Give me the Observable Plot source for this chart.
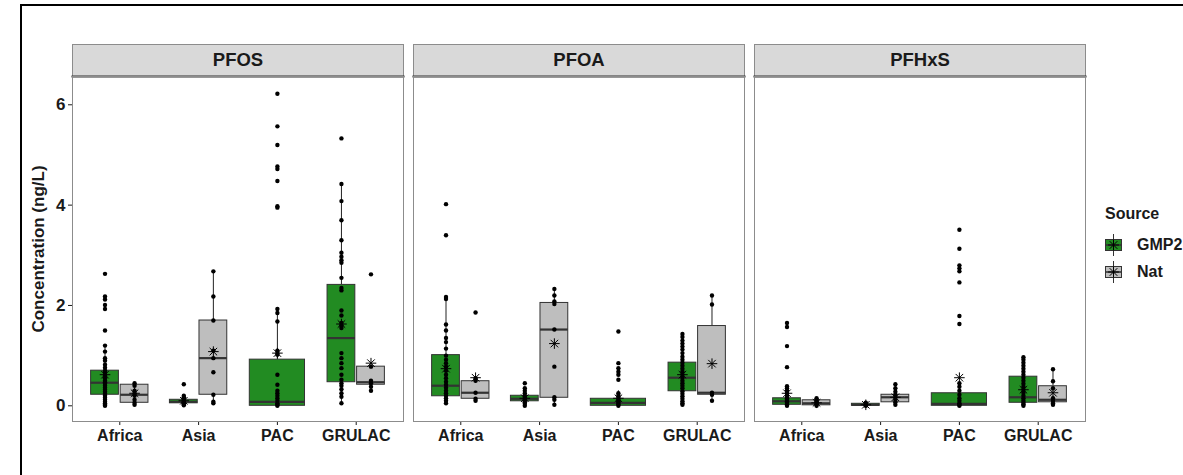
<!DOCTYPE html>
<html>
<head>
<meta charset="utf-8">
<script src="https://cdn.jsdelivr.net/npm/d3@7"></script>
<script src="https://cdn.jsdelivr.net/npm/@observablehq/plot@0.6"></script>
<style>
  html, body { margin: 0; padding: 0; background: #fff; }
  body { width: 1183px; height: 475px; overflow: hidden; position: relative;
         font-family: "Liberation Sans", Arial, sans-serif; }
  #frameline { position: absolute; left: 20px; top: 4px; width: 1300px; height: 600px;
               border-left: 2px solid #000; border-top: 2px solid #000; pointer-events: none; }
  #chart { position: absolute; left: 0; top: 0; }
  #chart g[aria-label="y-axis label"] text { font-size: 17px; }
  #chart g[aria-label="y-axis tick label"] text { font-size: 17px; }
  #legend { position: absolute; left: 1104px; top: 0; font-weight: bold; color: #1a1a1a; }
  #legend .title { position: absolute; top: 205px; left: 1px; font-size: 16px; white-space: nowrap; }
  #legend .row { position: absolute; left: 0; white-space: nowrap; height: 24px; }
  #legend .row svg { position: absolute; left: 0; top: 0; }
  #legend .row span { position: absolute; left: 33px; top: 3px; font-size: 16px; }
</style>
</head>
<body>
<div id="chart"></div>
<div id="legend"></div>
<div id="frameline"></div>
<script>
// Panels, regions and sources
const analytes = ["PFOS", "PFOA", "PFHxS"];
const regions = ["Africa", "Asia", "PAC", "GRULAC"];
const sources = ["GMP2", "Nat"];
const sourceColors = ["#228B22", "#BEBEBE"];
const yTicks = [0, 2, 4, 6];

// One entry per box (analyte × region × source)
const groupAnalyte = ["PFOS","PFOS","PFOS","PFOS","PFOS","PFOS","PFOS",
                      "PFOA","PFOA","PFOA","PFOA","PFOA","PFOA","PFOA",
                      "PFHxS","PFHxS","PFHxS","PFHxS","PFHxS","PFHxS","PFHxS"];
const groupRegion = ["Africa","Africa","Asia","Asia","PAC","GRULAC","GRULAC",
                     "Africa","Africa","Asia","Asia","PAC","GRULAC","GRULAC",
                     "Africa","Africa","Asia","Asia","PAC","GRULAC","GRULAC"];
const groupSource = ["GMP2","Nat","GMP2","Nat","GMP2","GMP2","Nat",
                     "GMP2","Nat","GMP2","Nat","GMP2","GMP2","Nat",
                     "GMP2","Nat","GMP2","Nat","GMP2","GMP2","Nat"];

// Box summaries (ng/L)
const q1          = [0.22, 0.06, 0.05, 0.22, 0.00, 0.47, 0.42,  0.19, 0.14, 0.09, 0.16, 0.00, 0.29, 0.22,  0.02, 0.01, 0.00, 0.07, 0.00, 0.06, 0.07];
const median      = [0.46, 0.22, 0.08, 0.95, 0.08, 1.35, 0.47,  0.40, 0.26, 0.14, 1.52, 0.06, 0.56, 0.26,  0.09, 0.05, 0.02, 0.17, 0.04, 0.17, 0.12];
const q3          = [0.70, 0.42, 0.12, 1.70, 0.92, 2.41, 0.78,  1.01, 0.49, 0.20, 2.05, 0.14, 0.86, 1.59,  0.15, 0.11, 0.04, 0.22, 0.25, 0.58, 0.39];
const whiskerLow  = [0.00, 0.02, 0.01, 0.05, 0.00, 0.05, 0.30,  0.04, 0.10, 0.00, 0.02, 0.00, 0.02, 0.10,  0.00, 0.00, 0.00, 0.02, 0.00, 0.00, 0.02];
const whiskerHigh = [1.20, 0.45, 0.20, 2.68, 1.93, 4.42, 0.78,  2.15, 0.55, 0.35, 2.33, 0.30, 1.43, 2.20,  0.30, 0.15, 0.06, 0.43, 0.45, 0.97, 0.73];
const mean        = [0.62, 0.25, 0.10, 1.08, 1.05, 1.63, 0.85,  0.74, 0.56, 0.15, 1.24, 0.15, 0.62, 0.84,  0.25, 0.06, 0.02, 0.17, 0.56, 0.32, 0.26];

// Individual measurements for each box, in the same order
const samples = [
  [2.63, 2.18, 2.12, 2.01, 1.93, 1.5, 1.2, 1.08, 0.95, 0.9, 0.82, 0.76, 0.7, 0.66, 0.6, 0.55, 0.5, 0.47, 0.44, 0.4, 0.36, 0.32, 0.28, 0.24, 0.2, 0.16, 0.12, 0.08, 0.05, 0.02, 0.0],
  [0.45, 0.4, 0.3, 0.25, 0.2, 0.12, 0.06, 0.02],
  [0.43, 0.2, 0.17, 0.14, 0.12, 0.1, 0.08, 0.07, 0.05, 0.03, 0.01],
  [2.68, 2.18, 1.7, 1.1, 0.95, 0.67, 0.22, 0.08, 0.05],
  [6.22, 5.57, 5.2, 4.77, 4.72, 4.48, 3.98, 3.95, 1.93, 1.85, 1.68, 1.1, 1.05, 1.02, 0.62, 0.42, 0.3, 0.25, 0.2, 0.15, 0.1, 0.05, 0.02, 0.0],
  [5.33, 4.42, 4.08, 3.7, 3.3, 3.05, 2.97, 2.9, 2.85, 2.55, 2.35, 2.3, 1.9, 1.8, 1.65, 1.6, 1.55, 1.05, 0.95, 0.85, 0.75, 0.62, 0.52, 0.45, 0.4, 0.33, 0.25, 0.18, 0.05],
  [2.62, 0.78, 0.5, 0.45, 0.38, 0.3],
  [4.02, 3.4, 2.17, 2.13, 1.62, 1.5, 1.35, 1.27, 1.14, 1.0, 0.92, 0.85, 0.78, 0.7, 0.62, 0.55, 0.48, 0.42, 0.36, 0.3, 0.25, 0.2, 0.15, 0.1, 0.05],
  [1.86, 0.55, 0.5, 0.26, 0.14, 0.1],
  [0.45, 0.35, 0.3, 0.25, 0.2, 0.16, 0.13, 0.1, 0.07, 0.04, 0.0],
  [2.33, 2.2, 2.08, 2.03, 1.52, 0.78, 0.17, 0.12, 0.02],
  [1.48, 0.85, 0.75, 0.68, 0.62, 0.52, 0.25, 0.2, 0.16, 0.12, 0.09, 0.06, 0.03, 0.0],
  [1.43, 1.37, 1.3, 1.24, 1.18, 1.12, 1.05, 0.98, 0.92, 0.86, 0.8, 0.74, 0.68, 0.62, 0.56, 0.5, 0.45, 0.4, 0.35, 0.29, 0.24, 0.19, 0.14, 0.09, 0.05, 0.02],
  [2.2, 2.02, 0.26, 0.22, 0.1],
  [1.65, 1.57, 1.19, 0.77, 0.39, 0.35, 0.3, 0.25, 0.2, 0.15, 0.12, 0.09, 0.06, 0.03, 0.0],
  [0.15, 0.12, 0.09, 0.06, 0.03, 0.0],
  [0.06, 0.04, 0.02, 0.01, 0.0],
  [0.43, 0.35, 0.28, 0.22, 0.17, 0.12, 0.07, 0.02],
  [3.51, 3.13, 2.8, 2.74, 2.68, 2.46, 1.79, 1.63, 0.45, 0.38, 0.3, 0.22, 0.15, 0.1, 0.05, 0.02, 0.0],
  [0.97, 0.92, 0.86, 0.8, 0.74, 0.68, 0.62, 0.56, 0.5, 0.44, 0.38, 0.32, 0.26, 0.2, 0.15, 0.1, 0.06, 0.03, 0.0],
  [0.73, 0.49, 0.35, 0.15, 0.1, 0.05, 0.02]
];

// Dodge the two sources side by side; a lone source takes the full slot.
const dodgeWidth = 0.75;
const boxes = groupAnalyte.map((analyte, i) => {
  const region = groupRegion[i];
  const paired = groupAnalyte.some((a, j) => j !== i && a === analyte && groupRegion[j] === region);
  const slot = regions.indexOf(region) + 1;
  const half = paired ? dodgeWidth * 0.235 : dodgeWidth * 0.467;
  const center = paired ? slot + (groupSource[i] === sources[0] ? -1 : 1) * dodgeWidth / 4 : slot;
  return {
    analyte, region, source: groupSource[i], center,
    x1: center - half, x2: center + half,
    q1: q1[i], median: median[i], q3: q3[i],
    lo: whiskerLow[i], hi: whiskerHigh[i], mean: mean[i]
  };
});
const points = boxes.flatMap((b, i) => samples[i].map(v => ({analyte: b.analyte, center: b.center, value: v})));

// Layout
const width = 1183, height = 462;
const marginTop = 76, marginBottom = 41, marginLeft = 72, marginRight = 98;
const panelHeight = height - marginTop - marginBottom;
const stripHeight = 32;
const font = '"Liberation Sans", Arial, sans-serif';

const chart = Plot.plot({
  width, height, marginTop, marginBottom, marginLeft, marginRight,
  style: {fontFamily: font, fontSize: "16px", fontWeight: "bold", color: "#1a1a1a", background: "transparent"},
  fx: {domain: analytes, axis: null, paddingInner: 10 / 341, paddingOuter: 0},
  x: {domain: [0.4, 4.6], ticks: [1, 2, 3, 4], tickFormat: i => regions[i - 1], tickSize: 4, tickPadding: 4, label: null},
  y: {domain: [-0.313, 6.564], ticks: yTicks, tickFormat: d => String(d), tickSize: 4, tickPadding: 3,
      label: "Concentration (ng/L)", labelAnchor: "center", labelArrow: "none", labelOffset: 41},
  color: {domain: sources, range: sourceColors},
  marks: [
    // facet strips
    Plot.frame({fill: "#D9D9D9", stroke: "#8C8C8C", strokeWidth: 1, insetTop: -stripHeight, insetBottom: panelHeight}),
    Plot.frame({anchor: "top", stroke: "#333", strokeWidth: 2}),
    Plot.text(analytes, {fx: d => d, text: d => d, frameAnchor: "top", dy: -stripHeight / 2,
                         lineAnchor: "middle", fontSize: 18.5, fontWeight: "bold", fill: "#1a1a1a"}),
    // whiskers
    Plot.ruleX(boxes, {fx: "analyte", x: "center", y1: "lo", y2: "q1", stroke: "#222", strokeWidth: 1}),
    Plot.ruleX(boxes, {fx: "analyte", x: "center", y1: "q3", y2: "hi", stroke: "#222", strokeWidth: 1}),
    // boxes and medians
    Plot.rectY(boxes, {fx: "analyte", x1: "x1", x2: "x2", y1: "q1", y2: "q3", fill: "source", stroke: "#333", strokeWidth: 1}),
    Plot.ruleY(boxes, {fx: "analyte", x1: "x1", x2: "x2", y: "median", stroke: "#333", strokeWidth: 2.2}),
    // individual measurements
    Plot.dot(points, {fx: "analyte", x: "center", y: "value", r: 2.2, fill: "#000", stroke: "none"}),
    // means
    Plot.dot(boxes, {fx: "analyte", x: "center", y: "mean", symbol: "plus", r: 3.5, fill: "none", stroke: "#000", strokeWidth: 1}),
    Plot.dot(boxes, {fx: "analyte", x: "center", y: "mean", symbol: "times", r: 3.5, fill: "none", stroke: "#000", strokeWidth: 1}),
    // panel borders
    Plot.frame({stroke: "#8C8C8C", strokeWidth: 1})
  ]
});
document.getElementById("chart").append(chart);

// Legend: box keys with whisker, median and mean star
const legend = d3.select("#legend");
legend.append("div").attr("class", "title").text("Source");
sources.forEach((s, i) => {
  const row = legend.append("div").attr("class", "row").style("top", `${233 + i * 27}px`);
  const svg = row.append("svg").attr("width", 20).attr("height", 24);
  svg.append("line").attr("x1", 9.5).attr("x2", 9.5).attr("y1", 1).attr("y2", 23).attr("stroke", "#333");
  svg.append("rect").attr("x", 1.5).attr("y", 6.5).attr("width", 16).attr("height", 11)
     .attr("fill", sourceColors[i]).attr("stroke", "#333");
  svg.append("line").attr("x1", 1.5).attr("x2", 17.5).attr("y1", 12).attr("y2", 12).attr("stroke", "#333").attr("stroke-width", 1.6);
  svg.append("path").attr("d", d3.symbol(d3.symbolPlus, 40)()).attr("transform", "translate(9.5,12)").attr("stroke", "#000").attr("fill", "none");
  svg.append("path").attr("d", d3.symbol(d3.symbolX, 40)()).attr("transform", "translate(9.5,12)").attr("stroke", "#000").attr("fill", "none");
  row.append("span").text(s);
});
</script>
</body>
</html>
